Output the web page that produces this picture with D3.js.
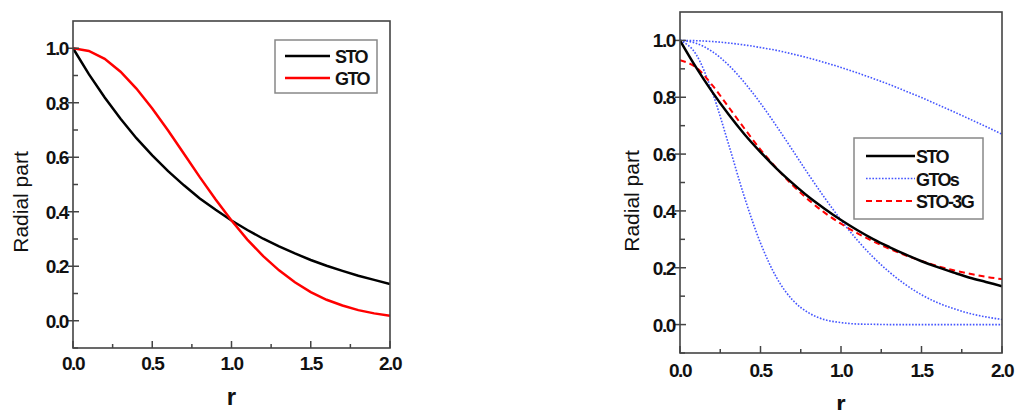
<!DOCTYPE html>
<html>
<head>
<meta charset="utf-8">
<script src="https://cdn.jsdelivr.net/npm/d3@7"></script>
<style>
  body { margin: 0; background: #fff; }
  svg { display: block; font-family: "Liberation Sans", Arial, sans-serif; }
  .tick-label { font-weight: bold; font-size: 19px; letter-spacing: -1.4px; fill: #111; }
  .legend-text { font-weight: bold; font-size: 18px; letter-spacing: -1.6px; fill: #111; }
</style>
</head>
<body>
<div class="chart"></div>
<script>
// r grid (0 .. 2, step 0.1)
var rValues = [0, 0.1, 0.2, 0.3, 0.4, 0.5, 0.6, 0.7, 0.8, 0.9, 1.0,
               1.1, 1.2, 1.3, 1.4, 1.5, 1.6, 1.7, 1.8, 1.9, 2.0];

var stoValues   = [1.000, 0.905, 0.819, 0.741, 0.670, 0.607, 0.549, 0.497, 0.449, 0.407, 0.368,
                   0.333, 0.301, 0.273, 0.247, 0.223, 0.202, 0.183, 0.165, 0.150, 0.135];
var gtoValues   = [1.000, 0.990, 0.961, 0.914, 0.852, 0.779, 0.698, 0.613, 0.527, 0.445, 0.368,
                   0.298, 0.237, 0.185, 0.141, 0.105, 0.077, 0.056, 0.039, 0.027, 0.018];
var gtoWide     = [1.000, 0.999, 0.996, 0.991, 0.984, 0.975, 0.965, 0.952, 0.938, 0.922, 0.905,
                   0.886, 0.866, 0.845, 0.822, 0.799, 0.774, 0.749, 0.723, 0.697, 0.670];
var gtoNarrow   = [1.000, 0.951, 0.819, 0.638, 0.449, 0.287, 0.165, 0.086, 0.041, 0.017, 0.007,
                   0.002, 0.001, 0.000, 0.000, 0.000, 0.000, 0.000, 0.000, 0.000, 0.000];
var sto3gValues = [0.930, 0.905, 0.843, 0.767, 0.690, 0.616, 0.550, 0.490, 0.438, 0.393, 0.355,
                   0.322, 0.293, 0.267, 0.244, 0.224, 0.206, 0.191, 0.179, 0.168, 0.160];

var xTicks = [0, 0.5, 1.0, 1.5, 2.0];
var xMinorTicks = [0.25, 0.75, 1.25, 1.75];
var yTicks = [0, 0.2, 0.4, 0.6, 0.8, 1.0];
var yMinorTicks = [-0.1, 0.1, 0.3, 0.5, 0.7, 0.9];

var leftSeries = [
  {name: "STO", values: stoValues, color: "#000", width: 2.5, dash: null},
  {name: "GTO", values: gtoValues, color: "#ff0000", width: 2.5, dash: null}
];
var rightSeries = [
  {name: "GTOs", values: gtoWide, color: "#4455ff", width: 1.6, dash: "1.6,1.6"},
  {name: "GTOs", values: gtoValues, color: "#4455ff", width: 1.6, dash: "1.6,1.6"},
  {name: "GTOs", values: gtoNarrow, color: "#4455ff", width: 1.6, dash: "1.6,1.6"},
  {name: "STO-3G", values: sto3gValues, color: "#ff0000", width: 2, dash: "6,4"},
  {name: "STO", values: stoValues, color: "#000", width: 2.5, dash: null}
];
var rightLegend = [
  {name: "STO", color: "#000", width: 2.5, dash: null},
  {name: "GTOs", color: "#4455ff", width: 1.6, dash: "1.6,1.6"},
  {name: "STO-3G", color: "#ff0000", width: 2, dash: "6,4"}
];

var svg = d3.select(".chart").append("svg")
  .attr("width", 1016)
  .attr("height", 410);

function drawPanel(cfg) {
  var x = d3.scaleLinear().domain([0, 2]).range([cfg.left, cfg.right]);
  var y = d3.scaleLinear().domain([-0.1, 1.1]).range([cfg.bottom, cfg.top]);
  var g = svg.append("g");

  // clip
  var clipId = "clip" + cfg.id;
  g.append("clipPath").attr("id", clipId)
    .append("rect")
    .attr("x", cfg.left).attr("y", cfg.top)
    .attr("width", cfg.right - cfg.left).attr("height", cfg.bottom - cfg.top);

  var line = d3.line()
    .x(function(d, i) { return x(rValues[i]); })
    .y(function(d) { return y(d); })
    .curve(cfg.curve);

  g.append("g").attr("clip-path", "url(#" + clipId + ")")
    .selectAll("path")
    .data(cfg.series).enter()
    .append("path")
    .attr("d", function(d) { return line(d.values); })
    .attr("fill", "none")
    .attr("stroke", function(d) { return d.color; })
    .attr("stroke-width", function(d) { return d.width; })
    .attr("stroke-dasharray", function(d) { return d.dash; });

  // x axis ticks (inward)
  var xAxis = g.append("g");
  xAxis.selectAll(".xmaj").data(xTicks).enter().append("line")
    .attr("x1", x).attr("x2", x)
    .attr("y1", cfg.bottom).attr("y2", cfg.bottom - 7)
    .attr("stroke", "#444").attr("stroke-width", 1.5);
  xAxis.selectAll(".xmin").data(xMinorTicks).enter().append("line")
    .attr("x1", x).attr("x2", x)
    .attr("y1", cfg.bottom).attr("y2", cfg.bottom - 4)
    .attr("stroke", "#444").attr("stroke-width", 1.5);
  xAxis.selectAll("text").data(xTicks).enter().append("text")
    .attr("class", "tick-label")
    .attr("x", x)
    .attr("y", cfg.bottom + cfg.xLabelOffset)
    .attr("text-anchor", "middle")
    .text(d3.format(".1f"));

  // y axis ticks
  var yAxis = g.append("g");
  yAxis.selectAll(".ymaj").data(yTicks).enter().append("line")
    .attr("x1", cfg.left - 5).attr("x2", cfg.left + 6)
    .attr("y1", y).attr("y2", y)
    .attr("stroke", "#444").attr("stroke-width", 1.5);
  yAxis.selectAll(".ymin").data(yMinorTicks).enter().append("line")
    .attr("x1", cfg.left).attr("x2", cfg.left + 5)
    .attr("y1", y).attr("y2", y)
    .attr("stroke", "#444").attr("stroke-width", 1.5);
  yAxis.selectAll("text").data(yTicks).enter().append("text")
    .attr("class", "tick-label")
    .attr("x", cfg.left - 5)
    .attr("y", function(d) { return y(d) + 7; })
    .attr("text-anchor", "end")
    .text(d3.format(".1f"));

  // frame
  g.append("rect")
    .attr("x", cfg.left).attr("y", cfg.top)
    .attr("width", cfg.right - cfg.left).attr("height", cfg.bottom - cfg.top)
    .attr("fill", "none").attr("stroke", "#444").attr("stroke-width", 1.6);

  // axis titles
  g.append("text")
    .attr("transform", "translate(" + cfg.yTitleX + "," + cfg.yTitleY + ") rotate(-90)")
    .attr("text-anchor", "middle")
    .attr("dy", "0.35em")
    .style("font-size", "21px")
    .attr("fill", "#111")
    .text("Radial part");
  g.append("text")
    .attr("x", (cfg.left + cfg.right) / 2)
    .attr("y", cfg.xTitleY)
    .attr("text-anchor", "middle")
    .style("font-size", "24px")
    .style("font-weight", "bold")
    .attr("fill", "#111")
    .text("r");

  // legend
  var lg = cfg.legend;
  g.append("rect")
    .attr("x", lg.x).attr("y", lg.y)
    .attr("width", lg.w).attr("height", lg.h)
    .attr("fill", "#fff").attr("stroke", "#888").attr("stroke-width", 1.5);
  var items = g.selectAll(".legend-item" + cfg.id)
    .data(lg.items).enter().append("g")
    .attr("transform", function(d, i) { return "translate(0," + (lg.y + lg.first + i * lg.step) + ")"; });
  items.append("line")
    .attr("x1", lg.lineX1).attr("x2", lg.lineX2)
    .attr("y1", 0).attr("y2", 0)
    .attr("stroke", function(d) { return d.color; })
    .attr("stroke-width", function(d) { return d.width; })
    .attr("stroke-dasharray", function(d) { return d.dash; });
  items.append("text")
    .attr("class", "legend-text")
    .attr("x", lg.textX)
    .attr("y", 7)
    .text(function(d) { return d.name; });
}

drawPanel({
  id: "L", left: 73, right: 390, top: 21, bottom: 348,
  curve: d3.curveLinear, series: leftSeries,
  xLabelOffset: 22, xTitleY: 405, yTitleX: 21, yTitleY: 202,
  legend: {x: 275, y: 40, w: 102, h: 53, first: 16, step: 22,
           lineX1: 285, lineX2: 330, textX: 335, items: leftSeries}
});

drawPanel({
  id: "R", left: 680, right: 1002, top: 12, bottom: 353,
  curve: d3.curveMonotoneX, series: rightSeries,
  xLabelOffset: 24, xTitleY: 412, yTitleX: 632, yTitleY: 201,
  legend: {x: 854, y: 138, w: 129, h: 81, first: 18, step: 22.5,
           lineX1: 866, lineX2: 915, textX: 916, items: rightLegend}
});
</script>
</body>
</html>
